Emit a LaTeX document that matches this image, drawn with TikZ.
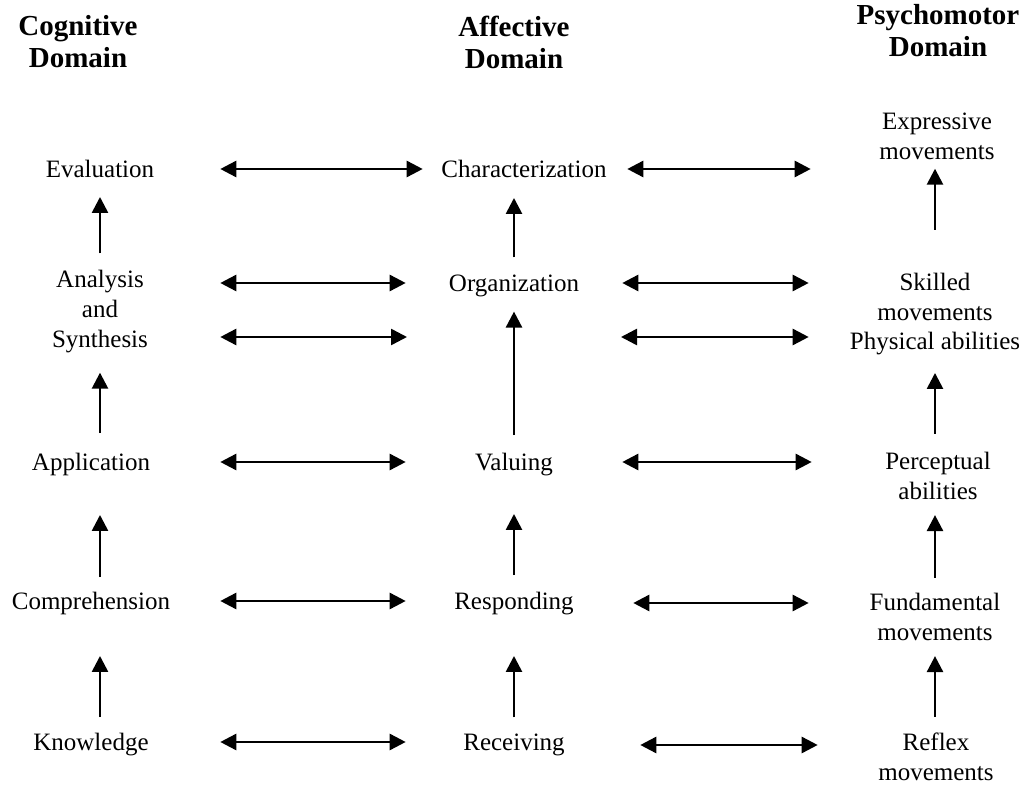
\documentclass[tikz,border=0pt]{standalone}
\usepackage{fontspec}
\setmainfont{Liberation Serif}
\usetikzlibrary{arrows.meta,calc}
\tikzset{
  every picture/.style={line width=2.6pt},
  level/.style={align=center, inner sep=0pt, font=\fontsize{25}{30}\selectfont},
  flat/.style={text depth=0pt},
  head/.style={align=center, inner sep=0pt, font=\fontsize{29}{32}\selectfont\bfseries},
  cog/.style={level, minimum width=238pt},
  aff/.style={level, flat, minimum width=214pt},
  psy/.style={level, minimum width=250pt},
  link/.style={{Triangle[length=16pt,width=16pt]}-{Triangle[length=16pt,width=16pt]}},
  up/.style 2 args={-{Triangle[length=16pt,width=16pt]}, shorten <=#1, shorten >=#2},
}
\begin{document}
\begin{tikzpicture}[x=1pt, y=-1pt]
  \useasboundingbox (0,0) rectangle (1021,786);
  \node[head] (cogh) at (78,42) {Cognitive\\Domain};
  \node[head] (affh) at (514,42) {Affective\\Domain};
  \node[head] (psyh) at (938,31) {Psychomotor\\Domain};

  \node[cog, flat] (eval) at (100,169) {Evaluation};
  \node[cog] (ansyn) at (100,312) {Analysis\\and\\Synthesis};
  \node[cog, flat, minimum width=256pt] (appl) at (91,462) {Application};
  \node[cog, flat, minimum width=256pt] (comp) at (91,601) {Comprehension};
  \node[cog, flat, minimum width=256pt] (know) at (91,742) {Knowledge};

  \node[aff] (char) at (524,169) {Characterization};
  \node[aff] (org) at (514,283) {Organization};
  \coordinate (affsyn) at (514,337);
  \node[aff] (val) at (514,462) {Valuing};
  \node[aff] (resp) at (514,601) {Responding};
  \node[aff] (recv) at (514,742) {Receiving};

  \node[psy] (expr) at (937,136) {Expressive\\movements};
  \node[psy] (skill) at (935,297) {Skilled\\movements};
  \node[psy, flat] (phys) at (935,341) {Physical abilities};
  \node[psy] (perc) at (938,476) {Perceptual\\abilities};
  \node[psy] (fund) at (935,617) {Fundamental\\movements};
  \node[psy] (refl) at (936,757) {Reflex\\movements};

  \draw[link, shorten >=-7pt] (eval) -- (char);
  \draw[link, shorten <=-5pt] (char) -- (char -| expr.west);
  \draw[link] (ansyn.east |- org) -- (org);
  \draw[link] (org) -- (org -| skill.west);
  \draw[link, shorten >=107pt] (ansyn.east |- affsyn) -- (affsyn);
  \draw[link, shorten <=107pt] (affsyn) -- (affsyn -| phys.west);
  \draw[link] (appl) -- (val);
  \draw[link] (val) -- (val -| perc.west);
  \draw[link] (comp) -- (resp);
  \draw[link, shorten <=11pt] ([yshift=-2pt]resp.east) -- ([yshift=-2pt]resp -| fund.west);
  \draw[link] (know) -- (recv);
  \draw[link, shorten <=18pt, shorten >=-8pt] ([yshift=-3pt]recv.east) -- ([yshift=-3pt]recv -| refl.west);

  \draw[up={16pt}{18pt}] (ansyn.north) -- (eval.south);
  \draw[up={19pt}{18pt}] (appl.north -| eval) -- (ansyn.south);
  \draw[up={14pt}{43pt}] (comp.north -| eval) -- (appl.south -| eval);
  \draw[up={15pt}{45pt}] (know.north -| eval) -- (comp.south -| eval);

  \draw[up={16pt}{19pt}] (org.north) -- (char.south -| org);
  \draw[up={17pt}{19pt}] (val.north) -- (org.south);
  \draw[up={16pt}{42pt}] (resp.north) -- (val.south);
  \draw[up={15pt}{45pt}] (recv.north) -- (resp.south);

  \draw[up={42pt}{8pt}] (skill.north) -- (expr.south -| skill);
  \draw[up={17pt}{22pt}] (perc.north -| skill) -- (phys.south);
  \draw[up={14pt}{14pt}] (fund.north) -- (perc.south -| fund);
  \draw[up={15pt}{14pt}] (refl.north -| fund) -- (fund.south);
\end{tikzpicture}
\end{document}
